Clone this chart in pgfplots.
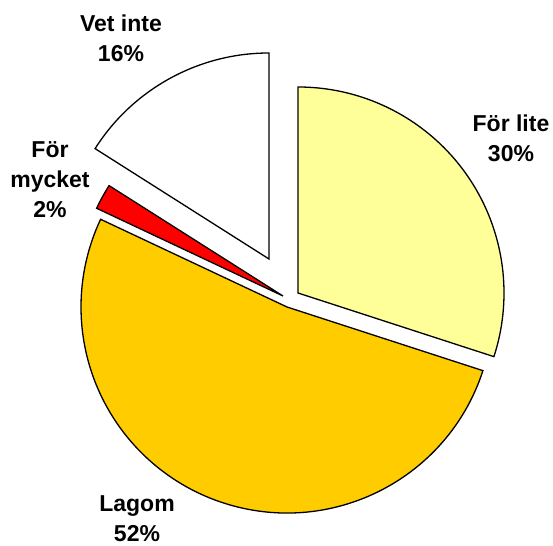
\documentclass[border=0pt]{standalone}
\usepackage{fontspec}
\setmainfont{Liberation Sans}
\usepackage{pgfplots}
\usepackage{pgfplotstable}
\pgfplotsset{compat=1.18}

\definecolor{lite}{HTML}{FFFF99}
\definecolor{lagom}{HTML}{FFCC00}
\definecolor{mycket}{HTML}{FF0000}
\definecolor{vet}{HTML}{FFFFFF}

% share of answers, in %
\pgfplotstableread{
label  value
lite   30
lagom  52
mycket 2
vet    16
}\piedata
\pgfplotstablegetelem{0}{value}\of\piedata \let\vLite\pgfplotsretval
\pgfplotstablegetelem{1}{value}\of\piedata \let\vLagom\pgfplotsretval
\pgfplotstablegetelem{2}{value}\of\piedata \let\vMycket\pgfplotsretval
\pgfplotstablegetelem{3}{value}\of\piedata \let\vVet\pgfplotsretval
% slice boundaries, clockwise from 12 o'clock
\pgfmathsetmacro\aA{90-3.6*\vLite}
\pgfmathsetmacro\aB{\aA-3.6*\vLagom}
\pgfmathsetmacro\aC{\aB-3.6*\vMycket}
\pgfmathsetmacro\aD{\aC-3.6*\vVet}
\def\R{206pt}

\tikzset{
    slice/.style={draw=black, line width=1.3pt},
    lbl/.style={font=\fontsize{23}{30}\selectfont\bfseries, anchor=base, inner sep=0pt},
}

\begin{document}
\begin{tikzpicture}
\begin{axis}[
    width=553pt, height=545pt, scale only axis,
    xmin=0, xmax=553, ymin=0, ymax=545,
    hide axis, clip=false,
]
% slices, each pulled out from the centre a little
\filldraw[slice, fill=lite]   (axis cs:298,252) -- ++(90:\R)   arc[start angle=90,  end angle=\aA, radius=\R] -- cycle;
\filldraw[slice, fill=lagom]  (axis cs:287,238) -- ++(\aA:\R)  arc[start angle=\aA, end angle=\aB, radius=\R] -- cycle;
\filldraw[slice, fill=mycket] (axis cs:283,249) -- ++(\aB:\R)  arc[start angle=\aB, end angle=\aC, radius=\R] -- cycle;
\filldraw[slice, fill=vet]    (axis cs:269,286) -- ++(\aC:\R)  arc[start angle=\aC, end angle=\aD, radius=\R] -- cycle;
% labels
\node[lbl] at (axis cs:511,413) {För lite};
\node[lbl] at (axis cs:511,383) {\vLite\%};
\node[lbl] at (axis cs:137,33) {Lagom};
\node[lbl] at (axis cs:137,4) {\vLagom\%};
\node[lbl] at (axis cs:50,387) {För};
\node[lbl] at (axis cs:50,357) {mycket};
\node[lbl] at (axis cs:50,327) {\vMycket\%};
\node[lbl] at (axis cs:121,513) {Vet inte};
\node[lbl] at (axis cs:121,483) {\vVet\%};
\end{axis}
% keep the page exactly the size of the axis area
\pgfresetboundingbox
\useasboundingbox (current axis.south west) rectangle (current axis.north east);
\end{tikzpicture}
\end{document}
